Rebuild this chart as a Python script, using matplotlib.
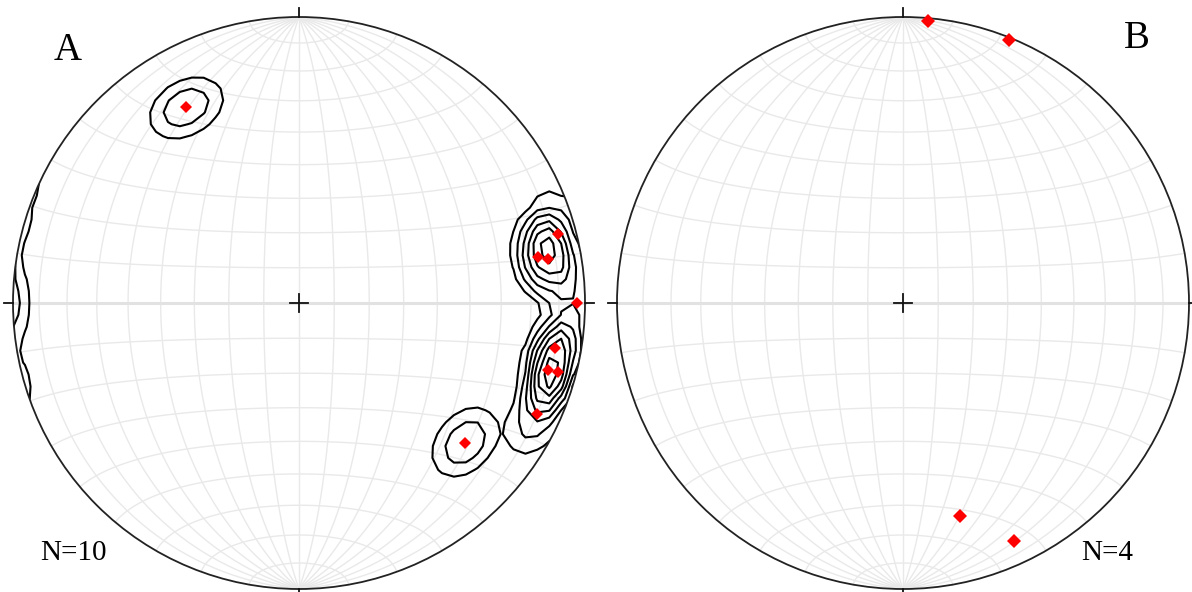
import numpy as np
import matplotlib.pyplot as plt
from matplotlib.patches import Circle

# lineations, lower hemisphere (trend / plunge in degrees)
trend_a = [330, 75, 79, 80, 90, 100, 105, 105, 115, 130]
plunge_a = [22, 7, 16, 12.5, 3, 10, 11, 7, 9, 25]
trend_b = [5, 22, 165, 155]
plunge_b = [1, 1, 24, 9]

panel_labels = ["A", "B"]
count_labels = ["N=10", "N=4"]

R = 286.0  # net radius in pixels
W, H = 1192, 592


def vectors(trend, plunge):
    t = np.radians(np.asarray(trend, float))
    p = np.radians(np.asarray(plunge, float))
    return np.cos(p) * np.sin(t), np.cos(p) * np.cos(t), np.sin(p)


def project(trend, plunge):
    # Schmidt (equal-area) projection, primitive radius = 1
    X, Y, Z = vectors(trend, plunge)
    s = np.sqrt(1 + Z)
    return X / s, Y / s


def draw_net(ax):
    # meridians
    lat = np.radians(np.linspace(-90, 90, 181))
    for lon in range(-80, 90, 10):
        lo = np.radians(lon)
        X = np.cos(lat) * np.sin(lo)
        Y = np.sin(lat)
        Z = np.cos(lat) * np.cos(lo)
        s = np.sqrt(1 + Z)
        ax.plot(X / s, Y / s, color="#e9e9e9", lw=1.0, zorder=1)
    # parallels
    lon = np.radians(np.linspace(-90, 90, 181))
    for la in range(-80, 90, 10):
        la_r = np.radians(la)
        X = np.cos(la_r) * np.sin(lon)
        Y = np.full_like(lon, np.sin(la_r))
        Z = np.cos(la_r) * np.cos(lon)
        s = np.sqrt(1 + Z)
        if la == 0:
            ax.plot(X / s, Y / s, color="#e2e2e2", lw=2.2, zorder=1)
        else:
            ax.plot(X / s, Y / s, color="#e9e9e9", lw=1.0, zorder=1)
    prim = Circle((0, 0), 1, fill=False, ec="#222222", lw=1.3, zorder=4)
    ax.add_patch(prim)
    t = 0.032
    for dx, dy in [(0, 1), (0, -1), (1, 0), (-1, 0)]:
        ax.plot([dx, dx * (1 + t)], [dy, dy * (1 + t)], color="#111111", lw=1.3, zorder=4)
    c = 0.03
    ax.plot([-c, c], [0, 0], color="#111111", lw=1.3, zorder=4)
    ax.plot([0, 0], [-c, c], color="#111111", lw=1.3, zorder=4)


def density(trend, plunge, cone=12.0, ramp=9.0, n=49):
    # counting cone with a soft rim around each axis (antipodes included)
    xs = np.linspace(-1.0, 1.0, n)
    gx, gy = np.meshgrid(xs, xs)
    r = np.hypot(gx, gy)
    rc = np.clip(r, 1e-9, 1.0)
    Z = 1 - rc ** 2
    h = np.sqrt(1 - Z ** 2)
    X = gx / np.maximum(r, 1e-9) * h
    Y = gy / np.maximum(r, 1e-9) * h
    px, py, pz = vectors(trend, plunge)
    d = np.zeros_like(gx)
    for a, b, c in zip(px, py, pz):
        dot = np.clip(np.abs(X * a + Y * b + Z * c), 0, 1)
        ang = np.degrees(np.arccos(dot))
        d += np.clip((cone - ang) / ramp, 0, 1)
    return gx, gy, d


fig = plt.figure(figsize=(W / 100, H / 100), dpi=100)

centers = [(299, 303), (903, 303)]
spans = [(0, 600), (596, 1192)]
for i, ((cx, cy), (x0, x1)) in enumerate(zip(centers, spans)):
    ax = fig.add_axes([x0 / W, 0, (x1 - x0) / W, 1])
    ax.set_xlim((x0 - cx) / R, (x1 - cx) / R)
    ax.set_ylim(-(H - cy) / R, cy / R)
    ax.axis("off")
    draw_net(ax)

    if i == 0:
        tr, pl = trend_a, plunge_a
        gx, gy, d = density(tr, pl)
        levels = 0.3 + np.arange(0, 12) * 0.4
        cs = ax.contour(gx, gy, d, levels=levels, colors="black", linewidths=1.5, zorder=3)
        clip = Circle((0, 0), 1, transform=ax.transData)
        cs.set_clip_path(clip)
        ms = 6
    else:
        tr, pl = trend_b, plunge_b
        ms = 7.5
    x, y = project(tr, pl)
    ax.plot(x, y, "D", color="red", ms=ms, mec="red", mew=0, zorder=5, clip_on=False)

fig.text(68 / W, 1 - 50 / H, panel_labels[0], family="Liberation Serif", fontsize=28,
         ha="center", va="center")
fig.text(1137 / W, 1 - 39 / H, panel_labels[1], family="Liberation Serif", fontsize=28,
         ha="center", va="center")
fig.text(73 / W, 1 - 553 / H, count_labels[0], family="Liberation Serif", fontsize=21,
         ha="center", va="center")
fig.text(1107 / W, 1 - 553 / H, count_labels[1], family="Liberation Serif", fontsize=21,
         ha="center", va="center")

fig.savefig("out.png", dpi=100)
